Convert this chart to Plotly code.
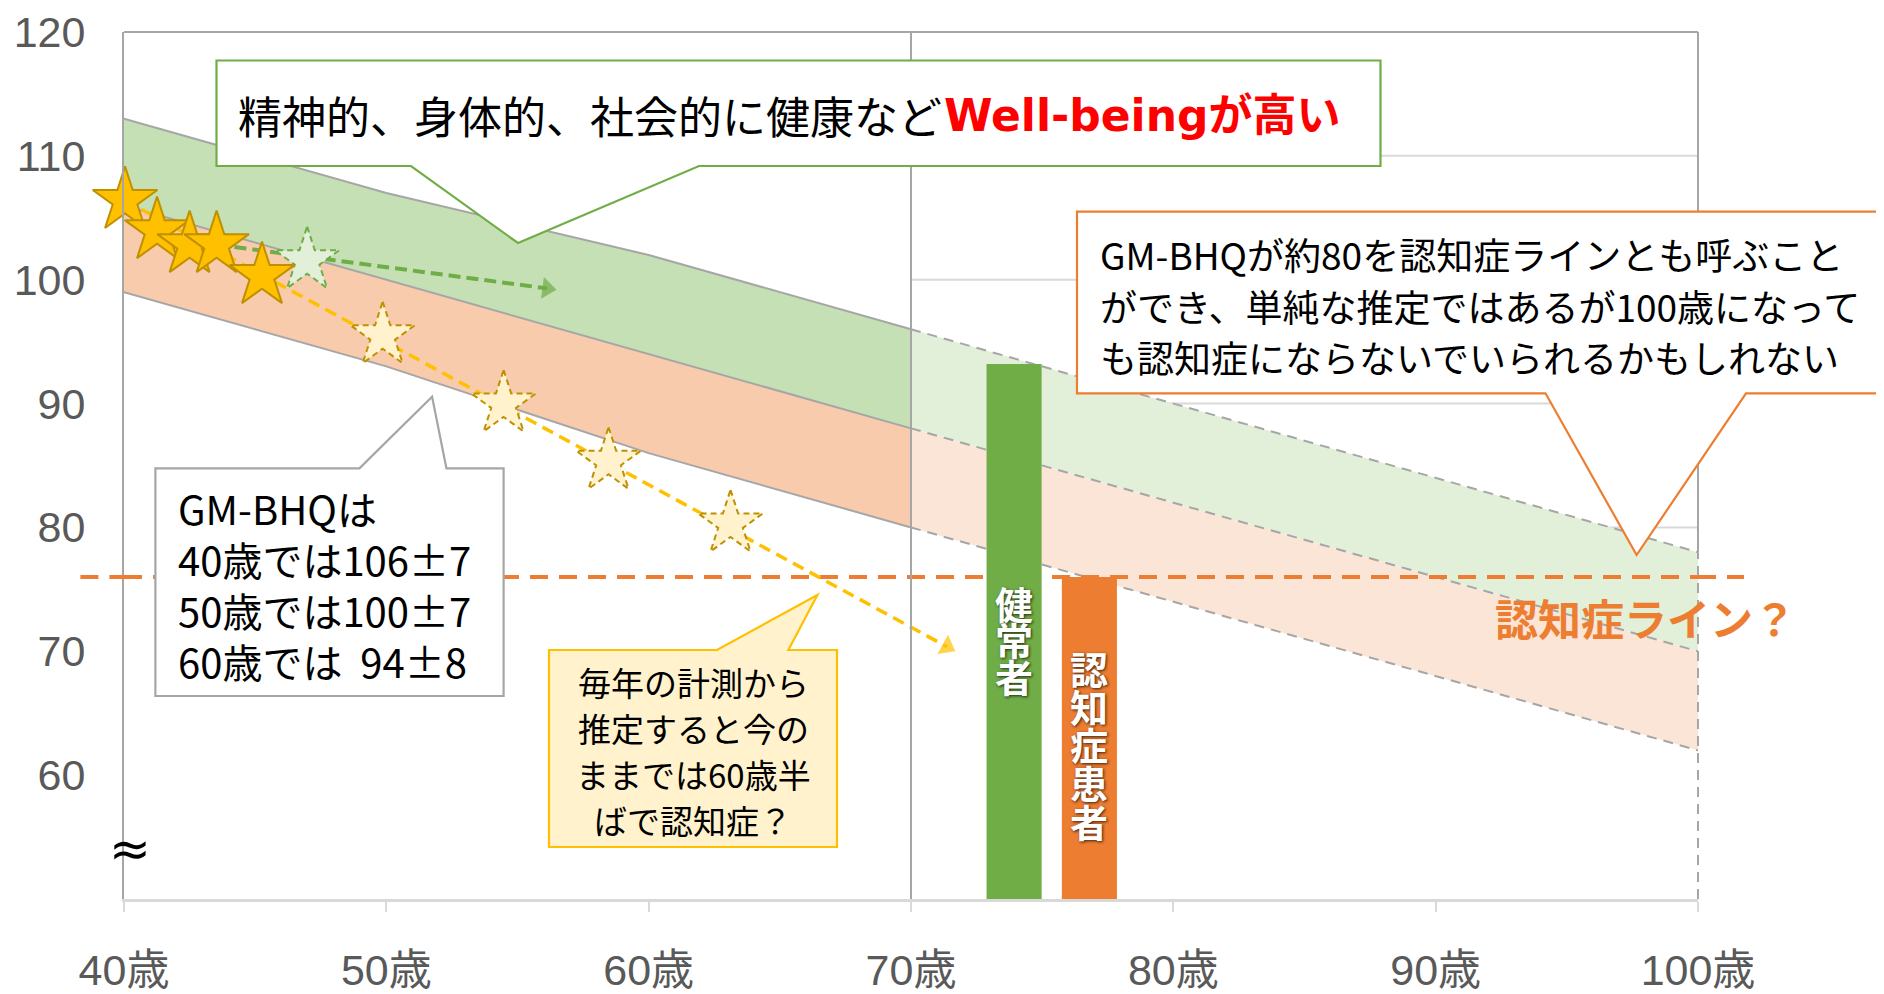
import math
import plotly.graph_objects as go

# ---------------- data ----------------
age_obs = [40, 50, 60, 70]
mean_obs = [106, 100, 94, 88]
sd_obs = [7, 7, 8, 8]
age_proj = [70, 100]
mean_proj = [88, 70]
sd_proj = [8, 8]

star_age = [40.04, 41.26, 42.5, 43.53, 45.26]
star_val = [106.4, 103.96, 102.83, 102.83, 100.33]
pale_age = [49.86, 54.47, 58.47, 63.12]
pale_val = [95.48, 89.97, 85.34, 80.28]
green_star_age = [46.98]
green_star_val = [101.54]

trend_yellow_age = [40.04, 71.37]
trend_yellow_val = [106.4, 70.37]
trend_green_age = [43.53, 56.13]
trend_green_val = [102.83, 99.3]

bar_labels = ["健常者", "認知症患者"]
bar_age = [73.93, 76.8]
bar_val = [93.2, 76.0]
bar_width = 2.1
bar_base = 50

dementia_line = 76.0
grid_vals = [80, 90, 100, 110]

x_ticks = [40, 50, 60, 70, 80, 90, 100]
x_ticktext = [f"{a}歳" for a in x_ticks]
y_ticks = [60, 70, 80, 90, 100, 110, 120]

# ---------------- geometry (page pixel coordinates) ----------------
W, H = 1884, 994
OFF = 8                      # default page body margin
PL, PR, PT, PB = 124, 1698, 32, 899
XR = [40, 100]
YR = [50, 120]
PW, PH = PR - PL, PB - PT
KX = PW / (XR[1] - XR[0])
KY = PH / (YR[1] - YR[0])
ML, MT = PL - OFF, PT - OFF
MR, MB = W - (PR - OFF), H - (PB - OFF)


def pp(X, Y):
    return (X - PL) / PW, (PB - Y) / PH


def star_poly(cx, cy, R=34, ratio=0.382):
    xs, ys = [], []
    for k in range(11):
        r = R if k % 2 == 0 else R * ratio
        th = math.radians(-90 + 36 * k)
        xs.append(cx + r * math.cos(th) / KX)
        ys.append(cy - r * math.sin(th) / KY)
    return xs, ys


GREY = "#a6a6a6"
fig = go.Figure()

upper_obs = [m + s for m, s in zip(mean_obs, sd_obs)]
lower_obs = [m - s for m, s in zip(mean_obs, sd_obs)]
upper_proj = [m + s for m, s in zip(mean_proj, sd_proj)]
lower_proj = [m - s for m, s in zip(mean_proj, sd_proj)]

# bands
for ax, top, bot, col in [
    (age_obs, upper_obs, mean_obs, "#c5e0b4"),
    (age_obs, mean_obs, lower_obs, "#f8cbad"),
    (age_proj, upper_proj, mean_proj, "#e2f0d9"),
    (age_proj, mean_proj, lower_proj, "#fbe5d6"),
]:
    fig.add_trace(go.Scatter(x=ax + ax[::-1], y=top + bot[::-1], fill="toself",
                             fillcolor=col, line=dict(width=0), mode="lines",
                             hoverinfo="skip", showlegend=False))
# band edges
for ser in [upper_obs, mean_obs, lower_obs]:
    fig.add_trace(go.Scatter(x=age_obs, y=ser, mode="lines",
                             line=dict(color=GREY, width=2), hoverinfo="skip", showlegend=False))
for ser in [upper_proj, mean_proj, lower_proj]:
    fig.add_trace(go.Scatter(x=age_proj, y=ser, mode="lines",
                             line=dict(color=GREY, width=2, dash="10px,7px"),
                             hoverinfo="skip", showlegend=False))

# dementia line
fig.add_trace(go.Scatter(x=XR, y=[dementia_line, dementia_line], mode="lines",
                         line=dict(color="#ed7d31", width=4, dash="18px,11px"),
                         hoverinfo="skip", showlegend=False))

# bars (as filled rectangles so they sit over the bands)
bar_cols = ["#70ad47", "#ed7d31"]
for a, v, c in zip(bar_age, bar_val, bar_cols):
    x0, x1 = a - bar_width / 2, a + bar_width / 2
    fig.add_trace(go.Scatter(x=[x0, x0, x1, x1, x0], y=[bar_base, v, v, bar_base, bar_base],
                             fill="toself", fillcolor=c, line=dict(width=0), mode="lines",
                             hoverinfo="skip", showlegend=False))

# trend arrows
for ax, ay, col, w, d in [
    (trend_yellow_age, trend_yellow_val, "#ffc000", 3.5, "12px,7px"),
    (trend_green_age, trend_green_val, "#70ad47", 4, "12px,6px"),
]:
    fig.add_trace(go.Scatter(x=ax, y=ay, mode="lines+markers",
                             line=dict(color=col, width=w, dash=d),
                             marker=dict(symbol="triangle-up", size=[0, 19], color=col,
                                         angleref="previous", line=dict(width=0)),
                             hoverinfo="skip", showlegend=False, cliponaxis=False))

# pale (projected) stars with dashed outline
for a, v in zip(pale_age, pale_val):
    xs, ys = star_poly(a, v)
    fig.add_trace(go.Scatter(x=xs, y=ys, fill="toself", fillcolor="#fff2cc", mode="lines",
                             line=dict(color="#bf9000", width=2, dash="6px,4px"),
                             hoverinfo="skip", showlegend=False))
for a, v in zip(green_star_age, green_star_val):
    xs, ys = star_poly(a, v)
    fig.add_trace(go.Scatter(x=xs, y=ys, fill="toself", fillcolor="#e2f0d9", mode="lines",
                             line=dict(color="#70ad47", width=2, dash="6px,4px"),
                             hoverinfo="skip", showlegend=False))

# measured stars
fig.add_trace(go.Scatter(x=star_age, y=star_val, mode="markers",
                         marker=dict(symbol="star", size=48.6, color="#ffc000",
                                     line=dict(color="#bf9000", width=2)),
                         cliponaxis=False, hoverinfo="skip", showlegend=False))

shapes = []
# gridlines in projection area
for g in grid_vals:
    shapes.append(dict(type="line", xref="x", yref="y", x0=age_proj[0], x1=age_proj[1], y0=g, y1=g,
                       line=dict(color="#d9d9d9", width=2), layer="below"))
# frame
y78 = (upper_proj[1] - YR[0]) / (YR[1] - YR[0])
shapes += [
    dict(type="line", xref="paper", yref="paper", x0=0, x1=1, y0=1, y1=1,
         line=dict(color=GREY, width=2), layer="above"),
    dict(type="line", xref="paper", yref="paper", x0=1, x1=1, y0=y78, y1=1,
         line=dict(color=GREY, width=2), layer="above"),
    dict(type="line", xref="paper", yref="paper", x0=1, x1=1, y0=0, y1=y78,
         line=dict(color=GREY, width=2, dash="10px,7px"), layer="above"),
    dict(type="line", xref="paper", yref="paper", x0=0.5, x1=0.5, y0=0, y1=1,
         line=dict(color=GREY, width=2), layer="above"),
]
# dementia line stubs outside the plot area
shapes += [
    dict(type="line", xref="paper", yref="y", x0=pp(80.4, 0)[0], x1=0, y0=dementia_line, y1=dementia_line,
         line=dict(color="#ed7d31", width=4, dash="18px,11px"), layer="above"),
    dict(type="line", xref="paper", yref="y", x0=1, x1=pp(1744, 0)[0], y0=dementia_line, y1=dementia_line,
         line=dict(color="#ed7d31", width=4, dash="18px,11px"), layer="above"),
]


def callout(L, T, R, B, pl, pr, tip, side, edge, fill):
    def P(X, Y):
        a, b = pp(X, Y)
        return f"{a:.5f},{b:.5f}"
    if side == "bottom":
        pts = [P(L, T), P(R, T), P(R, B), P(pr, B), P(*tip), P(pl, B), P(L, B)]
    else:
        pts = [P(L, T), P(pl, T), P(*tip), P(pr, T), P(R, T), P(R, B), P(L, B)]
    path = "M " + " L ".join(pts) + " Z"
    return dict(type="path", xref="paper", yref="paper", path=path,
                fillcolor=fill, line=dict(color=edge, width=2.2), layer="above")


shapes += [
    callout(216.5, 60.5, 1380.5, 166, 411, 699, (518, 243), "bottom", "#70ad47", "white"),
    callout(1077, 211.7, 1879, 393.3, 1545.5, 1746, (1636.6, 555), "bottom", "#ed7d31", "white"),
    callout(155.4, 468.3, 503.6, 696, 359.4, 446.4, (432.1, 396.7), "top", GREY, "white"),
    callout(549, 650, 837, 847, 717, 788.4, (817.4, 595), "top", "#ffc000", "#fff2cc"),
]

JP = "Noto Sans CJK JP"
ann = []


def txt(X, Y, text, size, color="black", xanchor="left", family=JP, shadow=None):
    a, b = pp(X, Y)
    f = dict(family=family, size=size, color=color)
    if shadow:
        f["shadow"] = shadow
    ann.append(dict(xref="paper", yref="paper", x=a, y=b, text=text, showarrow=False,
                    xanchor=xanchor, yanchor="middle", font=f))


txt(236, 115.5, "精神的、身体的、社会的に健康など", 44)
txt(942, 115.5, "<b>Well-beingが高い</b>", 44, color="#ff0000", family="DejaVu Sans, " + JP)

for i, line in enumerate(["GM-BHQが約80を認知症ラインとも呼ぶこと",
                          "ができ、単純な推定ではあるが100歳になって",
                          "も認知症にならないでいられるかもしれない"]):
    txt(1098, 254 + 51.5 * i, line, 37)

for i, line in enumerate(["GM-BHQは", "40歳では106±7", "50歳では100±7",
                          "60歳では\u00a0\u00a094±8"]):
    txt(176, 507.5 + 51 * i, line, 40)

for i, line in enumerate(["毎年の計測から", "推定すると今の", "ままでは60歳半", "ばで認知症？"]):
    txt(693, 682.4 + 45.7 * i, line, 33, xanchor="center")

txt(1493, 617, "<b>認知症ライン？</b>", 43, color="#ed7d31")
txt(129.5, 848.5, "≈", 50, xanchor="center", family="DejaVu Sans")

# vertical bar labels, one glyph per row
bar_text_first = [602, 667]
bar_text_pitch = [36.5, 38.25]
for a, lab, y0, pitch in zip(bar_age, bar_labels, bar_text_first, bar_text_pitch):
    X = PL + (a - XR[0]) * KX
    for j, ch in enumerate(lab):
        txt(X, y0 + pitch * j, f"<b>{ch}</b>", 38, color="white", xanchor="center",
            shadow="1px 1px 3px rgba(0,0,0,0.75)")

fig.update_layout(
    width=W, height=H, autosize=False,
    margin=dict(l=ML, r=MR, t=MT, b=MB, pad=0),
    paper_bgcolor="white", plot_bgcolor="white",
    showlegend=False, hovermode=False,
    shapes=shapes, annotations=ann,
    xaxis=dict(range=XR, tickvals=x_ticks, ticktext=x_ticktext, showgrid=False, zeroline=False,
               showline=True, linecolor="#d9d9d9", linewidth=3, ticks="outside", ticklen=10,
               tickcolor="#d9d9d9", tickwidth=2, ticklabelstandoff=21, automargin=False,
               tickfont=dict(family="Liberation Sans, " + JP, size=43, color="#595959")),
    yaxis=dict(range=YR, tickvals=y_ticks, showgrid=False, zeroline=False, automargin=False,
               showline=True, linecolor=GREY, linewidth=2, ticks="", ticklabelstandoff=28,
               tickfont=dict(family="Liberation Sans, " + JP, size=43, color="#595959")),
)

fig.write_html("out.html")
